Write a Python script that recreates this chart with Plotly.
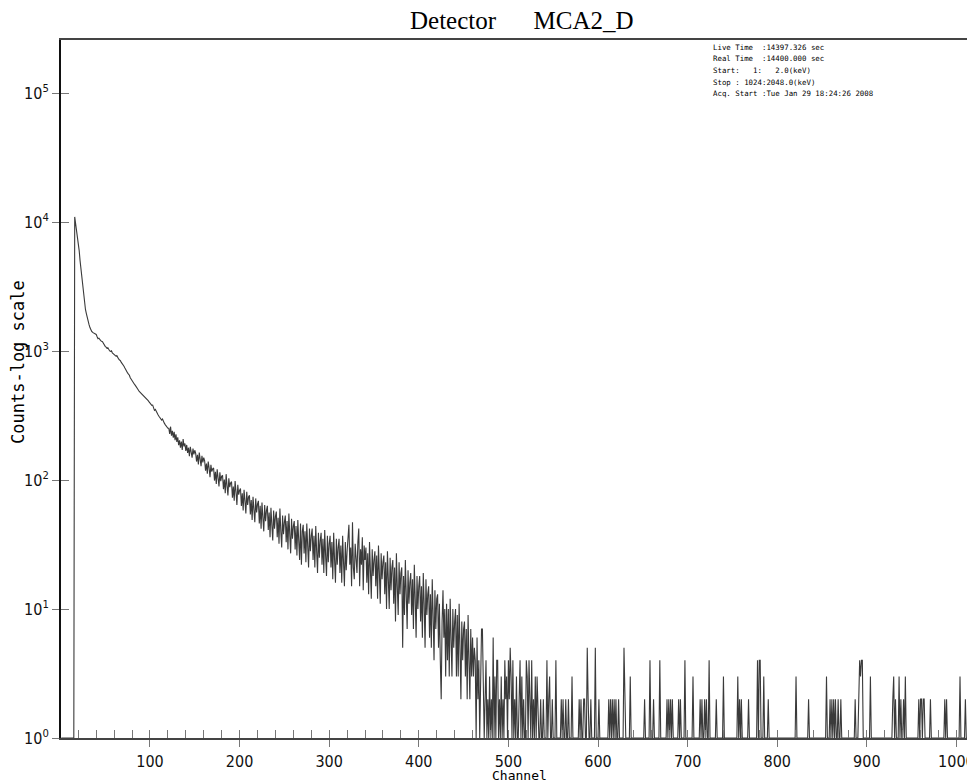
import plotly.graph_objects as go

# ---------------- data ----------------
# counts per channel, channels 1..470
counts_low = [
    0, 0, 0, 0, 0, 0, 0, 0, 0, 0,
    0, 0, 0, 0, 0, 10950, 9800, 8900, 8000, 7200,
    6000, 5000, 4300, 3500, 3000, 2600, 2300, 2100, 1950, 1800,
    1680, 1600, 1520, 1450, 1420, 1395, 1380, 1372, 1360, 1345,
    1290, 1245, 1258, 1212, 1205, 1188, 1181, 1148, 1105, 1086,
    1072, 1050, 1061, 1018, 1002, 995, 1004, 968, 951, 940,
    928, 912, 921, 884, 868, 851, 842, 816, 801, 779,
    762, 738, 711, 694, 676, 662, 649, 621, 603, 588,
    571, 566, 548, 537, 519, 507, 498, 486, 479, 471,
    463, 458, 446, 441, 432, 428, 421, 412, 403, 396,
    388, 379, 381, 366, 347, 352, 338, 329, 321, 312,
    306, 298, 291, 297, 282, 276, 269, 261, 258, 252,
    252, 228, 259, 221, 241, 213, 236, 204, 226, 197,
    214, 186, 203, 178, 199, 171, 208, 182, 192, 168,
    187, 162, 178, 153, 181, 166, 149, 175, 158, 170,
    161, 139, 157, 132, 163, 145, 128, 154, 137, 149,
    141, 118, 134, 112, 139, 124, 105, 131, 116, 122,
    124, 99, 116, 93, 121, 104, 89, 115, 98, 107,
    108, 85, 101, 79, 111, 90, 76, 103, 88, 95,
    97, 73, 89, 69, 98, 81, 64, 92, 77, 83,
    86, 63, 79, 58, 84, 69, 55, 81, 64, 74,
    76, 54, 70, 49, 74, 59, 47, 72, 56, 65,
    69, 46, 63, 42, 67, 51, 40, 64, 48, 58,
    63, 41, 56, 36, 61, 45, 34, 58, 42, 52,
    57, 36, 51, 32, 60, 40, 30, 53, 38, 47,
    53, 33, 48, 29, 55, 38, 27, 50, 35, 44,
    48, 29, 44, 26, 49, 34, 24, 46, 22, 40,
    45, 27, 40, 23, 46, 31, 21, 42, 28, 37,
    42, 24, 37, 21, 44, 28, 19, 39, 25, 34,
    39, 22, 35, 19, 41, 26, 18, 37, 23, 32,
    37, 21, 33, 17, 39, 24, 16, 35, 22, 30,
    35, 19, 31, 16, 37, 23, 15, 33, 20, 28,
    34, 45, 22, 30, 15, 47, 21, 17, 32, 26,
    19, 33, 42, 15, 29, 22, 36, 14, 31, 24,
    30, 16, 27, 13, 33, 20, 12, 29, 18, 24,
    28, 15, 26, 12, 31, 19, 11, 27, 17, 23,
    26, 13, 23, 10, 28, 17, 10, 25, 14, 21,
    24, 11, 21, 8, 27, 15, 9, 23, 13, 19,
    21, 5, 18, 9, 24, 13, 7, 20, 11, 16,
    19, 9, 17, 7, 22, 12, 6, 18, 10, 15,
    18, 8, 15, 6, 19, 11, 5, 17, 9, 13,
    15, 6, 13, 5, 17, 9, 4, 14, 7, 12,
    13, 5, 11, 4, 2, 8, 14, 6, 10, 3,
    11, 4, 10, 3, 12, 6, 3, 10, 5, 8,
    10, 3, 9, 3, 11, 5, 2, 8, 4, 7,
    8, 3, 7, 2, 9, 4, 2, 7, 3, 6,
    3, 5, 4, 1, 6, 2, 4, 0, 3, 7,
]

# counts per channel, channels 471..1024
counts_tail = [
    7, 3, 0, 2, 4, 1, 2, 0, 3, 1,
    2, 0, 6, 1, 3, 0, 4, 4, 1, 2,
    0, 3, 1, 2, 0, 4, 2, 3, 1, 4,
    2, 5, 3, 0, 4, 1, 2, 0, 3, 1,
    0, 2, 4, 1, 3, 0, 2, 1, 0, 4,
    3, 1, 4, 2, 0, 4, 1, 2, 0, 3,
    1, 3, 2, 0, 1, 2, 0, 1, 2, 0,
    1, 0, 4, 1, 2, 3, 0, 1, 2, 0,
    1, 0, 4, 1, 0, 1, 0, 1, 2, 1,
    2, 0, 1, 2, 1, 0, 2, 1, 0, 1,
    3, 1, 0, 1, 0, 1, 0, 1, 2, 1,
    2, 0, 1, 2, 2, 1, 0, 5, 2, 1,
    0, 2, 1, 0, 1, 1, 5, 0, 1, 0,
    2, 1, 0, 1, 0, 1, 0, 1, 0, 1,
    0, 2, 1, 2, 0, 2, 1, 2, 0, 2,
    1, 0, 2, 1, 0, 1, 0, 1, 5, 2,
    1, 0, 1, 0, 1, 3, 0, 1, 0, 1,
    1, 0, 1, 0, 0, 1, 0, 1, 0, 1,
    0, 2, 1, 0, 1, 0, 1, 4, 1, 0,
    1, 2, 0, 1, 0, 1, 1, 0, 4, 1,
    0, 1, 0, 1, 0, 1, 2, 0, 2, 1,
    2, 0, 2, 1, 0, 1, 0, 1, 0, 2,
    1, 2, 0, 1, 0, 1, 4, 0, 1, 0,
    1, 0, 1, 0, 1, 3, 0, 1, 0, 1,
    0, 1, 0, 2, 1, 2, 0, 1, 2, 0,
    2, 1, 0, 4, 1, 0, 1, 0, 1, 0,
    1, 2, 0, 1, 0, 1, 0, 1, 0, 3,
    1, 0, 1, 0, 1, 0, 0, 1, 0, 1,
    0, 1, 0, 1, 0, 3, 1, 2, 0, 2,
    1, 0, 1, 0, 1, 0, 1, 2, 0, 1,
    0, 1, 0, 1, 0, 1, 0, 4, 1, 4,
    4, 0, 1, 0, 3, 1, 0, 1, 0, 2,
    1, 0, 1, 0, 0, 1, 0, 1, 0, 1,
    0, 1, 0, 0, 1, 0, 1, 0, 0, 1,
    0, 1, 0, 1, 0, 0, 1, 0, 1, 0,
    3, 1, 0, 1, 0, 1, 0, 0, 1, 0,
    1, 0, 1, 0, 2, 1, 0, 1, 0, 1,
    0, 1, 0, 0, 1, 0, 1, 0, 1, 0,
    1, 0, 1, 0, 3, 1, 0, 1, 2, 1,
    2, 0, 2, 1, 2, 0, 1, 2, 0, 1,
    2, 1, 0, 1, 0, 1, 0, 0, 1, 1,
    0, 1, 0, 1, 0, 1, 2, 1, 0, 1,
    2, 4, 3, 4, 4, 1, 0, 1, 0, 1,
    0, 1, 0, 3, 1, 0, 1, 0, 1, 0,
    1, 0, 1, 0, 0, 1, 0, 1, 0, 1,
    0, 1, 0, 1, 0, 1, 0, 1, 2, 3,
    1, 2, 0, 1, 0, 3, 1, 2, 0, 1,
    2, 1, 3, 1, 0, 1, 0, 1, 0, 1,
    0, 1, 0, 1, 0, 1, 0, 2, 1, 2,
    2, 1, 2, 2, 1, 0, 1, 0, 1, 0,
    2, 1, 0, 1, 0, 1, 0, 1, 0, 1,
    0, 1, 0, 1, 0, 1, 2, 1, 2, 1,
    0, 1, 0, 1, 0, 1, 0, 1, 0, 1,
    0, 1, 1, 3, 1, 0, 1, 0, 1, 2,
    1, 0, 1, 0, 1, 0, 1, 0, 1, 0,
    1, 0, 1, 0,
]

counts = counts_low + counts_tail
channels = list(range(1, len(counts) + 1))

x_tick_vals = [100, 200, 300, 400, 500, 600, 700, 800, 900, 1000]
y_tick_vals = [1, 10, 100, 1000, 10000, 100000]
y_tick_text = ["10<sup>0</sup>", "10<sup>1</sup>", "10<sup>2</sup>",
               "10<sup>3</sup>", "10<sup>4</sup>", "10<sup>5</sup>"]

title_text = "Detector\u00a0\u00a0\u00a0\u00a0\u00a0\u00a0MCA2_D"
x_title = "Channel"
y_title = "Counts-log scale"
info_lines = [
    "Live Time  :14397.326 sec",
    "Real Time  :14400.000 sec",
    "Start:   1:   2.0(keV)",
    "Stop : 1024:2048.0(keV)",
    "Acq. Start :Tue Jan 29 18:24:26 2008",
]

# ---------------- layout helpers ----------------
W, H = 967, 783
L, R, T, B = 61, 0, 40, 45
PW = W - L - R
PH = H - T - B


def px(x):
    return (x - L) / PW


def py(y):
    return (H - B - y) / PH


X_RANGE = [0.7, 1011.8]
Y_RANGE = [0, 5.411]

# zero counts are shown on the baseline of the log display
y_display = [c if c > 0 else 1 for c in counts]

tick_font = dict(family="Liberation Sans Narrow, DejaVu Sans Condensed, Arial Narrow, sans-serif",
                 size=16, color="#111")

fig = go.Figure()
fig.add_trace(go.Scatter(
    x=channels, y=y_display, mode="lines",
    line=dict(color="#3a3a3a", width=1.1),
    hoverinfo="x+y", showlegend=False,
))
# empty trace so the overlay axes (inner tick marks) are drawn
fig.add_trace(go.Scatter(
    x=[None], y=[None], xaxis="x2", yaxis="y2", mode="lines",
    hoverinfo="skip", showlegend=False,
))

fig.update_layout(
    width=W, height=H, autosize=False,
    margin=dict(l=L, r=R, t=T, b=B, pad=0, autoexpand=False),
    paper_bgcolor="white", plot_bgcolor="white",
    showlegend=False,
    xaxis=dict(range=X_RANGE, tickmode="array", tickvals=x_tick_vals,
               ticks="outside", ticklen=7, tickwidth=1, tickcolor="#777",
               ticklabeloverflow="allow", ticklabelstandoff=1, automargin=False,
               showline=True, linecolor="#444", linewidth=1.5, mirror=True,
               showgrid=False, zeroline=False, tickfont=tick_font),
    xaxis2=dict(overlaying="x", anchor="y", side="bottom", range=X_RANGE,
                tickmode="linear", tick0=0, dtick=20, automargin=False,
                ticks="inside", ticklen=8, tickwidth=1, tickcolor="#777",
                showticklabels=False, showline=False, showgrid=False, zeroline=False),
    yaxis=dict(type="log", range=Y_RANGE, tickmode="array",
               tickvals=y_tick_vals, ticktext=y_tick_text, automargin=False,
               ticks="outside", ticklen=7, tickwidth=1, tickcolor="#777",
               showline=True, linecolor="#111", linewidth=2,
               showgrid=False, zeroline=False, tickfont=tick_font),
    yaxis2=dict(overlaying="y", anchor="x", side="left", type="log", range=Y_RANGE,
                tickmode="array", tickvals=y_tick_vals, automargin=False,
                ticks="inside", ticklen=8, tickwidth=1, tickcolor="#777",
                showticklabels=False, showline=False, showgrid=False, zeroline=False),
)

annotations = [
    dict(text=title_text, xref="paper", yref="paper", x=px(522), y=py(21),
         xanchor="center", yanchor="middle", showarrow=False,
         font=dict(family="Liberation Serif, Times New Roman, serif", size=25, color="#000")),
    dict(text=x_title, xref="paper", yref="paper", x=px(519), y=py(775),
         xanchor="center", yanchor="middle", showarrow=False,
         font=dict(family="DejaVu Sans Mono, monospace", size=13, color="#000")),
    dict(text=y_title, xref="paper", yref="paper", x=px(18), y=py(362),
         xanchor="center", yanchor="middle", showarrow=False, textangle=-90,
         font=dict(family="DejaVu Sans Mono, monospace", size=17, color="#000")),
]
line_ys = [47.7, 59.0, 70.5, 82.0, 93.3]
for txt, ly in zip(info_lines, line_ys):
    annotations.append(dict(
        text=txt.replace(" ", "\u00a0"), xref="paper", yref="paper",
        x=px(711), y=py(ly), xanchor="left", yanchor="middle", showarrow=False,
        font=dict(family="DejaVu Sans Mono, monospace", size=7.4, color="#000")))
fig.update_layout(annotations=annotations)

fig.write_html("out.html")
